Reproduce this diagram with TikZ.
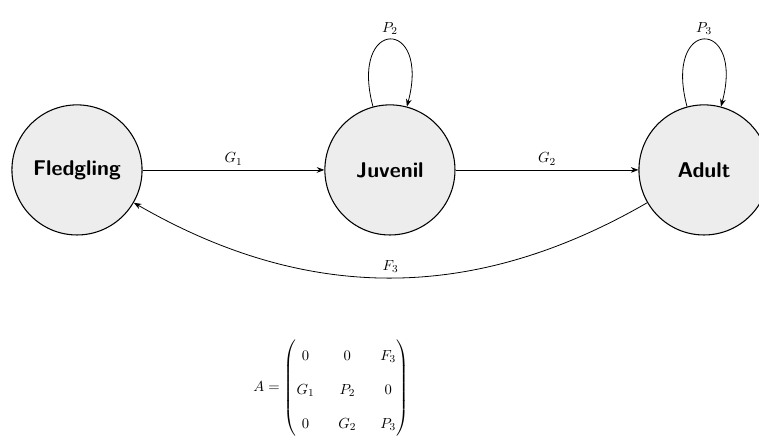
\documentclass[tikz,border=0pt]{standalone}
\usepackage{amsmath}
\usetikzlibrary{arrows.meta, positioning}

\begin{document}
\begin{tikzpicture}[
      >=Stealth,
      stage/.style={circle, draw=black, line width=0.8pt, fill=black!7, font=\fontsize{16}{19}\selectfont\sffamily\bfseries, minimum size=3.43cm, inner sep=0pt},
      trans/.style={->, semithick},
      lbl/.style={font=\fontsize{11}{13.5}\selectfont}
  ]
      \useasboundingbox (-10.28,-7.01) rectangle (9.73,4.48);

      % Life stages
      \node[stage] (fledgling) at (-8.25, 0) {Fledgling};
      \node[stage] (juvenil)   at (0, 0)     {Juvenil};
      \node[stage] (adult)     at (8.28, 0)  {Adult};

      % Transitions
      \draw[trans] (fledgling) -- node[above, lbl] {$G_1$} (juvenil);
      \draw[trans] (juvenil) -- node[above, lbl] {$G_2$} (adult);
      \draw[trans] (juvenil) to[loop above, looseness=7] node[above, lbl] {$P_2$} (juvenil);
      \draw[trans] (adult) to[loop above, looseness=7] node[above, lbl] {$P_3$} (adult);
      \draw[trans] (adult) to[bend left=30] node[above, lbl] {$F_3$} (fledgling);

      % Projection matrix
      \node[lbl] (matA) at (-1.55, -5.74) {%
        \renewcommand{\arraystretch}{1.9}\setlength{\arraycolsep}{9pt}%
        $A = \begin{pmatrix} 0 & 0 & F_3 \\ G_1 & P_2 & 0 \\ 0 & G_2 & P_3 \end{pmatrix}$};

  \end{tikzpicture}
\end{document}
